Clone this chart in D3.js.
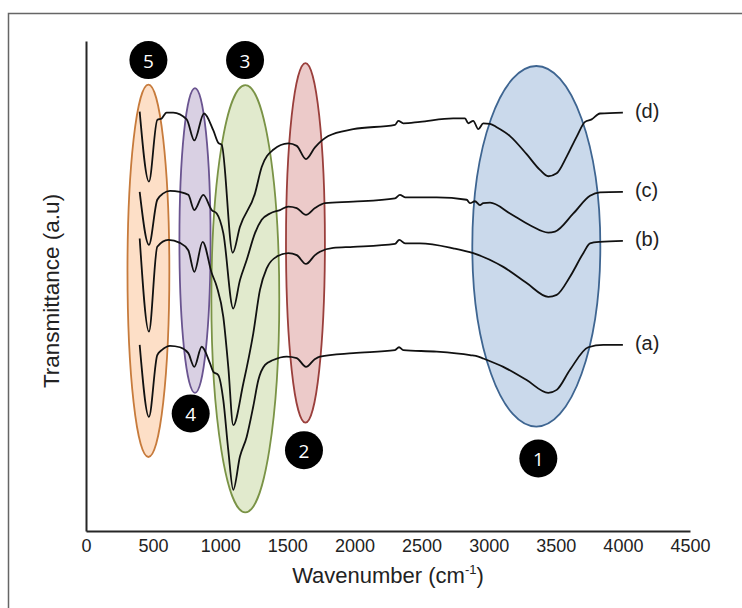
<!DOCTYPE html>
<html>
<head>
<meta charset="utf-8">
<script src="https://cdn.jsdelivr.net/npm/d3@7"></script>
<style>
    body { margin: 0; background: #fff; }
    svg { display: block; font-family: "Liberation Sans", Arial, sans-serif; }
</style>
</head>
<body>
<svg id="chart" width="742" height="608"></svg>
<script>
// FTIR spectra, wavenumber (cm-1) vs transmittance (a.u.)
let xTicks = [0, 500, 1000, 1500, 2000, 2500, 3000, 3500, 4000, 4500];
let seriesLabels = ["(a)", "(b)", "(c)", "(d)"];

let seriesA = [[400,38.0],[469,23.3],[531,35.9],[564,36.9],[626,37.8],[700,37.5],[762,36.3],[807,33.5],[862,37.6],[924,34.2],[948,32.5],[986,31.8],[1023,26.7],[1060,16.5],[1097,8.4],[1147,15.2],[1197,19.2],[1246,25.4],[1284,30.8],[1334,33.9],[1395,34.9],[1495,35.6],[1570,35.3],[1639,33.5],[1706,35.1],[1743,35.6],[1991,36.3],[2302,36.9],[2332,37.5],[2364,36.9],[2613,36.6],[2861,35.9],[2923,35.6],[2960,35.2],[3109,33.5],[3283,30.8],[3444,28.2],[3507,28.8],[3606,32.9],[3742,37.5],[3854,38.0],[4000,38.0]];
let seriesB = [[400,59.7],[469,40.7],[531,58.0],[613,59.4],[700,58.8],[762,57.3],[807,52.9],[869,59.0],[937,52.6],[974,49.9],[1023,43.7],[1060,33.5],[1097,21.6],[1172,30.1],[1246,40.3],[1296,49.2],[1346,53.6],[1421,56.0],[1507,56.7],[1570,56.3],[1639,54.5],[1706,56.3],[1743,57.0],[1842,57.8],[1991,58.0],[2302,58.6],[2334,59.4],[2377,58.7],[2488,58.7],[2736,57.7],[2885,56.7],[3109,53.9],[3283,50.6],[3444,47.8],[3507,48.2],[3606,51.9],[3705,56.7],[3755,58.7],[3829,59.0],[4000,59.2]];
let seriesC = [[400,69.2],[469,58.4],[531,67.6],[576,68.9],[626,69.4],[700,69.2],[762,68.6],[807,65.5],[874,68.6],[937,65.5],[974,64.8],[1023,60.8],[1097,45.4],[1147,51.2],[1197,55.3],[1259,60.8],[1309,63.5],[1371,64.8],[1445,65.5],[1507,66.2],[1570,65.9],[1639,64.5],[1706,65.9],[1781,66.9],[1991,67.2],[2302,67.9],[2339,68.6],[2377,68.1],[2613,68.1],[2836,67.6],[2861,66.9],[2898,67.3],[2935,66.5],[2960,66.9],[3010,67.0],[3159,64.8],[3308,62.4],[3444,60.9],[3494,61.1],[3631,64.8],[3755,68.4],[3829,69.1],[4000,69.2]];
let seriesD = [[400,85.6],[469,71.3],[531,83.9],[564,84.2],[600,85.4],[650,85.4],[750,84.0],[807,79.7],[879,85.2],[948,81.8],[986,79.2],[1011,78.8],[1093,56.8],[1147,62.1],[1259,68.9],[1309,74.3],[1395,77.8],[1507,79.1],[1570,78.6],[1639,75.9],[1706,78.3],[1805,80.6],[1991,82.0],[2302,82.9],[2327,83.7],[2364,83.2],[2488,83.5],[2736,84.2],[2824,84.2],[2848,83.2],[2885,83.7],[2923,82.0],[2960,83.2],[3010,83.1],[3060,82.4],[3159,80.6],[3283,76.9],[3382,73.7],[3444,72.4],[3507,73.0],[3581,76.4],[3656,80.5],[3718,83.5],[3767,84.0],[3829,85.2],[4000,85.4]];

// absorption bands marked with ellipses
let bandIds = ["5", "4", "3", "2", "1"];
let bandCenters = [465, 812, 1187, 1635, 3355];
let bandHalfWidths = [156, 116, 253, 145, 477];
let bandMids = [53.1, 59.3, 47.4, 58.8, 58.1];
let bandHalfHeights = [38.0, 31.1, 43.6, 36.7, 36.8];
let badgeX = [465, 780, 1185, 1624, 3370];
let badgeY = [96.1, 24.0, 96.1, 16.5, 14.8];

let bandFills = ["#F79646", "#8064A2", "#9BBB59", "#C0504D", "#4F81BD"];
let bandStrokes = ["#C77B3C", "#6A5490", "#7A9346", "#9A3F3C", "#3E6591"];

let svg = d3.select("#chart");

svg.append("rect")
    .attr("x", 8.5).attr("y", 13.5)
    .attr("width", 760).attr("height", 620)
    .attr("fill", "none")
    .attr("stroke", "#666")
    .attr("stroke-width", 1.5);

let x = d3.scaleLinear().domain([0, 4500]).range([86, 690]);
let y = d3.scaleLinear().domain([0, 100]).range([531, 41]);

// ellipses
bandIds.forEach((id, i) => {
    svg.append("ellipse")
        .attr("cx", x(bandCenters[i]))
        .attr("cy", y(bandMids[i]))
        .attr("rx", x(bandCenters[i] + bandHalfWidths[i]) - x(bandCenters[i]))
        .attr("ry", y(bandMids[i] - bandHalfHeights[i]) - y(bandMids[i]))
        .attr("fill", bandFills[i])
        .attr("fill-opacity", 0.3)
        .attr("stroke", bandStrokes[i])
        .attr("stroke-width", 1.8);
});

// axes
let xAxis = svg.append("g")
    .attr("transform", `translate(0,${y(0)})`)
    .call(d3.axisBottom(x).tickValues(xTicks).tickSize(0).tickPadding(8).tickFormat(d3.format("d")));
xAxis.select(".domain").attr("stroke", "#262626").attr("stroke-width", 2);
xAxis.selectAll("text").attr("font-size", 18).attr("fill", "#222")
    .attr("font-family", "'Liberation Sans', Arial, sans-serif");

let yAxis = svg.append("g")
    .attr("transform", `translate(${x(0)},0)`)
    .call(d3.axisLeft(y).ticks(0).tickSize(0));
yAxis.select(".domain").attr("stroke", "#262626").attr("stroke-width", 2);

// spectra
let allSeries = [seriesA, seriesB, seriesC, seriesD];
let line = d3.line()
    .x((d) => x(d[0]))
    .y((d) => y(d[1]))
    .curve(d3.curveMonotoneX);

allSeries.forEach((s, i) => {
    svg.append("path")
        .attr("d", line(s))
        .attr("fill", "none")
        .attr("stroke", "#111")
        .attr("stroke-width", 1.8)
        .attr("stroke-linejoin", "round");

    let last = s[s.length - 1];
    svg.append("text")
        .attr("x", x(last[0]) + 12)
        .attr("y", y(last[1]) - 1.5)
        .attr("dominant-baseline", "central")
        .attr("font-size", 20)
        .attr("fill", "#222")
        .text(seriesLabels[i]);
});

// numbered badges
bandIds.forEach((id, i) => {
    svg.append("circle")
        .attr("cx", x(badgeX[i]))
        .attr("cy", y(badgeY[i]))
        .attr("r", 19)
        .attr("fill", "#000");
    svg.append("text")
        .attr("x", x(badgeX[i]))
        .attr("y", y(badgeY[i]) + 1)
        .attr("text-anchor", "middle")
        .attr("dominant-baseline", "central")
        .attr("font-family", "'Open Sans', sans-serif")
        .attr("font-size", 19)
        .attr("fill", "#fff")
        .text(id);
});

// axis titles
let xTitle = svg.append("text")
    .attr("x", 388)
    .attr("y", 583)
    .attr("text-anchor", "middle")
    .attr("font-size", 22)
    .attr("fill", "#222");
xTitle.append("tspan").text("Wavenumber (cm");
xTitle.append("tspan").attr("font-size", 13).attr("dy", -9).text("-1");
xTitle.append("tspan").attr("dy", 9).text(")");

svg.append("text")
    .attr("transform", "translate(59,291) rotate(-90)")
    .attr("text-anchor", "middle")
    .attr("font-size", 22.5)
    .attr("fill", "#222")
    .text("Transmittance (a.u)");
</script>
</body>
</html>
